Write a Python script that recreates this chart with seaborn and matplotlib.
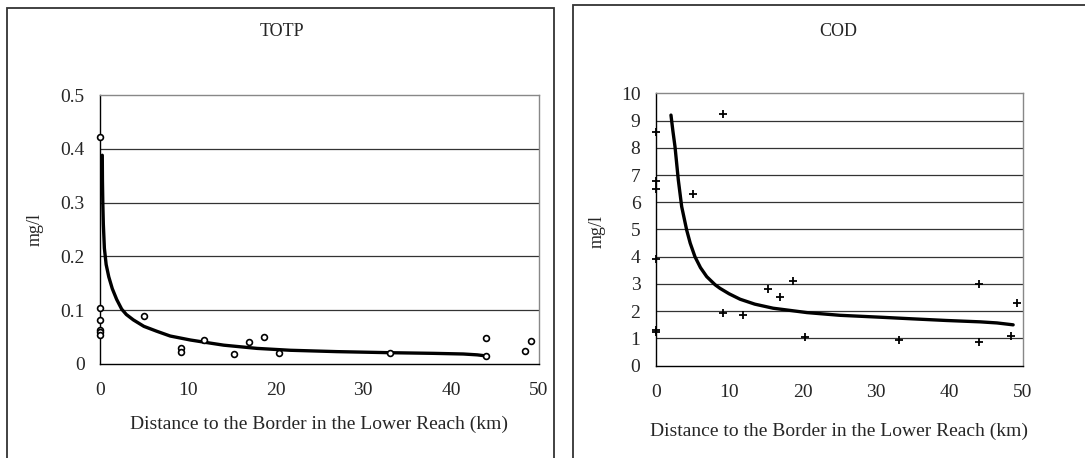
"""
    Two scatter panels (TOTP and COD) against distance to the border in the lower reach,
    each with its trend curve. Saves ``out.png``.
"""
import pandas as pd
import seaborn as sns
import matplotlib.pyplot as plt
from matplotlib.patches import Rectangle

# TOTP measurements (km, mg/l)
TOTP_X = [0, 0, 0, 0, 0, 0, 5.0, 9.2, 9.2, 11.9, 15.3, 17.0, 18.7, 20.4,
          33.1, 44.0, 44.0, 48.4, 49.1]
TOTP_Y = [0.422, 0.105, 0.081, 0.063, 0.059, 0.054, 0.090, 0.030, 0.023, 0.045,
          0.018, 0.041, 0.051, 0.021, 0.021, 0.048, 0.015, 0.024, 0.042]
# TOTP trend curve
TOTP_CX = [0.26, 0.28, 0.32, 0.38, 0.5, 0.7, 1.0, 1.4, 1.9, 2.47, 3.0, 3.8, 5.0,
           6.45, 8.0, 10.3, 12.5, 14.1, 17.9, 21.7, 27.0, 33.1, 38.0, 41.4, 43.0, 44.0]
TOTP_CY = [0.388, 0.34, 0.30, 0.26, 0.215, 0.185, 0.162, 0.140, 0.120, 0.102, 0.092,
           0.082, 0.070, 0.061, 0.052, 0.0446, 0.039, 0.035, 0.029, 0.0255, 0.023,
           0.021, 0.0198, 0.0186, 0.017, 0.015]

# COD measurements (km, mg/l)
COD_X = [0, 0, 0, 0, 0, 0, 5.1, 9.2, 9.2, 11.9, 15.3, 17.0, 18.7, 20.4,
         33.2, 44.1, 44.1, 48.4, 49.2]
COD_Y = [8.57, 6.78, 6.47, 3.9, 1.30, 1.25, 6.29, 9.23, 1.92, 1.85, 2.82, 2.51,
         3.12, 1.06, 0.94, 3.0, 0.87, 1.09, 2.31]
# COD trend curve
COD_CX = [2.08, 2.35, 2.63, 3.08, 3.54, 4.22, 4.7, 5.35, 6.1, 6.95, 8.1, 8.76, 10.0,
          11.5, 13.5, 16.0, 20.6, 25.1, 30.6, 35.0, 39.6, 44.2, 46.5, 48.7]
COD_CY = [9.2, 8.6, 8.04, 6.82, 5.84, 4.98, 4.5, 4.0, 3.6, 3.27, 2.97, 2.84, 2.64,
          2.44, 2.26, 2.11, 1.95, 1.85, 1.78, 1.72, 1.66, 1.61, 1.57, 1.50]

XTICKS = [0, 10, 20, 30, 40, 50]
TOTP_YTICKS = [0, 0.1, 0.2, 0.3, 0.4, 0.5]
COD_YTICKS = list(range(0, 11))
XLABEL = "Distance to the Border in the Lower Reach (km)"

W, H = 1085, 458

sns.set_style("white")
plt.rcParams['font.family'] = ['Liberation Serif', 'DejaVu Serif']

fig = plt.figure(figsize=(W / 100, H / 100), dpi=100)


def px(x, y):
    """ pixel (from top-left) -> figure fraction """
    return x / W, 1 - y / H


def panel(box, xs, ys, cx, cy, yticks, marker, ms, mew):
    l, t, r, b = box
    ax = fig.add_axes([l / W, 1 - b / H, (r - l) / W, (b - t) / H])
    pts = pd.DataFrame({"x": xs, "y": ys})
    crv = pd.DataFrame({"x": cx, "y": cy})
    sns.lineplot(data=crv, x="x", y="y", ax=ax, color="black", lw=2.4,
                 sort=False, estimator=None, zorder=3)
    if marker == "o":
        sns.scatterplot(data=pts, x="x", y="y", ax=ax, marker="o", s=ms ** 2,
                        facecolor="white", edgecolor="black", linewidth=mew,
                        zorder=4, clip_on=False)
    else:
        sns.scatterplot(data=pts, x="x", y="y", ax=ax, marker="+", s=ms ** 2,
                        color="black", linewidth=mew, zorder=4, clip_on=False)
    ax.set_xlim(0, 50)
    ax.set_ylim(yticks[0], yticks[-1])
    ax.set_xticks(XTICKS)
    ax.set_yticks(yticks)
    ax.set_yticklabels([f"{v:g}" for v in yticks])
    ax.set_xlabel("")
    ax.set_ylabel("")
    for v in yticks[1:-1]:
        ax.axhline(v, color="#333333", lw=0.9, zorder=1)
    ax.spines["left"].set_color("black")
    ax.spines["bottom"].set_color("black")
    ax.spines["top"].set_color("#888888")
    ax.spines["right"].set_color("#888888")
    for s in ax.spines.values():
        s.set_linewidth(1.0)
    ax.tick_params(direction="in", length=5, width=1, color="black",
                   labelsize=14, top=False, right=False)
    ax.tick_params(axis="x", pad=13)
    ax.tick_params(axis="y", pad=11)
    return ax


panel((100, 95, 538.7, 364), TOTP_X, TOTP_Y, TOTP_CX, TOTP_CY, TOTP_YTICKS,
      "o", 4.2, 1.2)
panel((655.7, 93.3, 1022.7, 365.7), COD_X, COD_Y, COD_CX, COD_CY, COD_YTICKS,
      "+", 6.0, 1.3)

# texts
fig.text(*px(282, 32), "TOTP", ha="center", va="center", fontsize=13)
fig.text(*px(838, 32), "COD", ha="center", va="center", fontsize=13)
fig.text(*px(35, 230), "mg/l", rotation=90, ha="center", va="center", fontsize=13)
fig.text(*px(597, 232), "mg/l", rotation=90, ha="center", va="center", fontsize=13)
fig.text(*px(319, 424), XLABEL, ha="center", va="center", fontsize=14)
fig.text(*px(839, 431), XLABEL, ha="center", va="center", fontsize=14)

# chart frames
for (x0, y0, x1, y1) in [(7, 8, 554, 470), (573, 5, 1100, 470)]:
    fig.patches.append(Rectangle((x0 / W, 1 - y1 / H), (x1 - x0) / W, (y1 - y0) / H,
                                 transform=fig.transFigure, fill=False,
                                 edgecolor="#333333", lw=1.3, clip_on=False))

fig.savefig("out.png", dpi=100)
plt.close(fig)
